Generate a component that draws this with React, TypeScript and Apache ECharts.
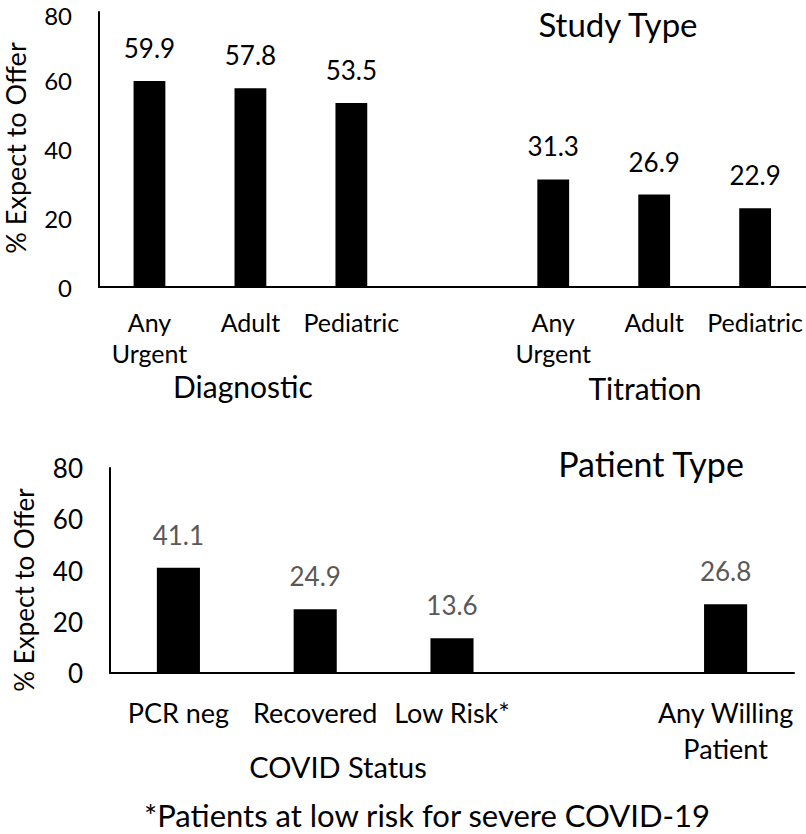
import React, { useEffect, useRef } from "react";
import * as echarts from "echarts";

const studyCategories = ["Any\nUrgent", "Adult", "Pediatric", "", "Any\nUrgent", "Adult", "Pediatric"];
const studyValues: (number | string)[] = [59.9, 57.8, 53.5, "-", 31.3, 26.9, 22.9];
const studyGroups = ["Diagnostic", "Titration"];

const patientCategories = ["PCR neg", "Recovered", "Low Risk*", "", "Any Willing\nPatient"];
const patientValues: (number | string)[] = [41.1, 24.9, 13.6, "-", 26.8];
const patientGroups = ["COVID Status"];

const yTicks = { min: 0, max: 80, interval: 20 };
const yName = "% Expect to Offer";
const titles = ["Study Type", "Patient Type"];
const footnote = "*Patients at low risk for severe COVID-19";

const FONT = "Lato";

function txt(text: string, x: number, y: number, size: number, rotation = 0) {
  return {
    type: "text", x, y, rotation,
    style: { text, font: `${size}px ${FONT}`, fill: "#000", textAlign: "center", textVerticalAlign: "middle" },
  };
}

export default function App() {
  const ref = useRef<HTMLDivElement>(null);
  useEffect(() => {
    if (!ref.current) return;
    const chart = echarts.init(ref.current, undefined, { renderer: "svg" });
    const axisLine = { show: true, lineStyle: { color: "#000", width: 2 } };
    chart.setOption({
      animation: false,
      backgroundColor: "#fff",
      textStyle: { fontFamily: FONT },
      grid: [
        { left: 99, top: 12, width: 707, height: 275 },
        { left: 110, top: 468, width: 684, height: 205 },
      ],
      xAxis: [
        {
          gridIndex: 0, type: "category", data: studyCategories,
          axisLine, axisTick: { show: false },
          axisLabel: { interval: 0, fontFamily: FONT, fontSize: 25, lineHeight: 31, color: "#000", margin: 19 },
        },
        {
          gridIndex: 1, type: "category", data: patientCategories,
          axisLine, axisTick: { show: false },
          axisLabel: { interval: 0, fontFamily: FONT, fontSize: 27, lineHeight: 36, color: "#000", margin: 21 },
        },
      ],
      yAxis: [
        {
          gridIndex: 0, type: "value", ...yTicks,
          axisLine, axisTick: { show: false }, splitLine: { show: false },
          axisLabel: {
            fontFamily: FONT, fontSize: 24, color: "#000", margin: 27,
            formatter: (v: number) => (v === yTicks.max ? `{top|${v}}` : `${v}`),
            rich: { top: { fontFamily: FONT, fontSize: 24, color: "#000", padding: [6, 0, 0, 0] } },
          },
        },
        {
          gridIndex: 1, type: "value", ...yTicks,
          axisLine, axisTick: { show: false }, splitLine: { show: false },
          axisLabel: { fontFamily: FONT, fontSize: 26, color: "#000", margin: 27 },
        },
      ],
      series: [
        {
          type: "bar", xAxisIndex: 0, yAxisIndex: 0, data: studyValues, barWidth: "31.5%",
          itemStyle: { color: "#000" },
          label: { show: true, position: "top", distance: 20, fontFamily: FONT, fontSize: 26, color: "#000" },
        },
        {
          type: "bar", xAxisIndex: 1, yAxisIndex: 1, data: patientValues, barWidth: "31.5%",
          itemStyle: { color: "#000" },
          label: { show: true, position: "top", distance: 20, fontFamily: FONT, fontSize: 26, color: "#595959" },
        },
      ],
      graphic: [
        txt(titles[0], 618, 24, 33),
        txt(titles[1], 651, 463, 34),
        txt(yName, 15, 148, 27, Math.PI / 2),
        txt(yName, 24, 590, 26, Math.PI / 2),
        txt(studyGroups[0], 243, 386, 30),
        txt(studyGroups[1], 645, 388, 30),
        txt(patientGroups[0], 338, 766, 29),
        txt(footnote, 427, 815, 31),
      ],
    });
    return () => chart.dispose();
  }, []);
  return <div ref={ref} style={{ position: "fixed", left: 0, top: 0, width: 806, height: 834 }} />;
}
